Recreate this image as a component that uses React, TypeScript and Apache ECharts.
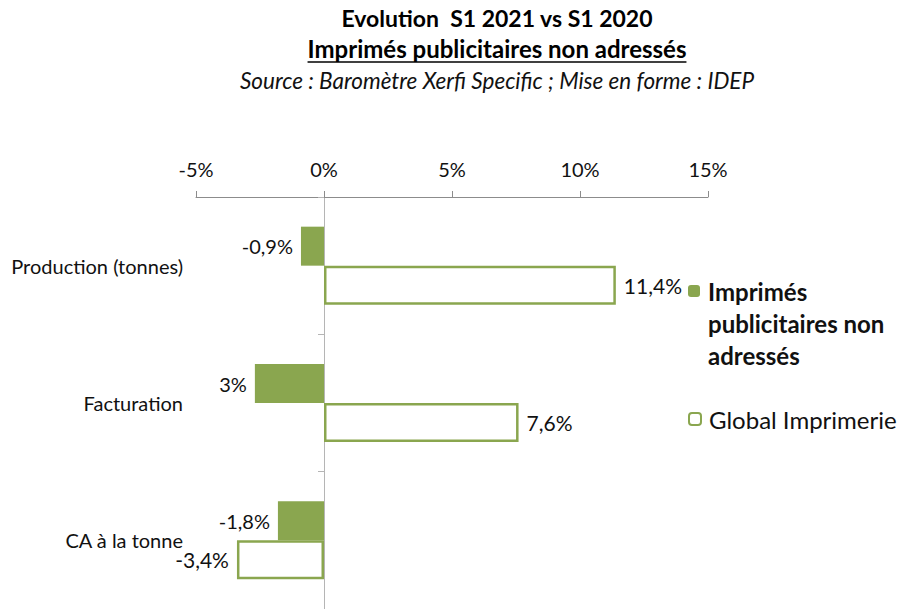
import React, { useEffect, useRef } from 'react';
import * as echarts from 'echarts';

const categories = ['Production (tonnes)', 'Facturation', 'CA à la tonne'];
const seriesNames = ['Imprimés publicitaires non adressés', 'Global Imprimerie'];
const imprimesValues = [-0.9, -2.7, -1.8];
const imprimesLabels = ['-0,9%', '3%', '-1,8%'];
const globalValues = [11.4, 7.6, -3.4];
const globalLabels = ['11,4%', '7,6%', '-3,4%'];
const xMin = -5;
const xMax = 15;
const xInterval = 5;
const titleLines = [
  'Evolution  S1 2021 vs S1 2020',
  'Imprimés publicitaires non adressés',
  'Source : Baromètre Xerfi Specific ; Mise en forme : IDEP',
];
const legendLines1 = ['Imprimés', 'publicitaires non', 'adressés'];

const GREEN = '#8AA64F';
const FONT = 'Lato, "Noto Sans", sans-serif';

function measure(text: string, font: string): number {
  const c = document.createElement('canvas').getContext('2d');
  if (!c) return text.length * 10;
  c.font = font;
  return c.measureText(text).width;
}

export default function App() {
  const ref = useRef<HTMLDivElement>(null);
  useEffect(() => {
    if (!ref.current) return;
    const chart = echarts.init(ref.current, undefined, { renderer: 'svg' });
    const cx = 497;
    const underlineW = measure(titleLines[1], 'bold 24px Lato');
    const mkData = (vals: number[], labels: string[]) =>
      vals.map((v, i) => ({
        value: v,
        label: { position: v < 0 ? 'left' : 'right', formatter: labels[i] },
      }));
    const option: any = {
      animation: false,
      textStyle: { fontFamily: FONT },
      grid: {
        left: 196,
        right: 191,
        top: 197,
        bottom: 0,
        containLabel: false,
        outerBoundsMode: 'none',
      },
      xAxis: {
        type: 'value',
        position: 'top',
        min: xMin,
        max: xMax,
        interval: xInterval,
        axisLine: { show: true, lineStyle: { color: '#8c8c8c', width: 1 } },
        axisTick: { show: true, length: 6, lineStyle: { color: '#8c8c8c' } },
        axisLabel: {
          formatter: '{value}%',
          fontSize: 20,
          color: '#111',
          margin: 18,
          fontFamily: FONT,
        },
        splitLine: { show: false },
      },
      yAxis: {
        type: 'category',
        inverse: true,
        data: categories,
        axisLine: { show: true, onZero: true, lineStyle: { color: '#b5b5b5', width: 1 } },
        axisTick: { show: true, length: 6, lineStyle: { color: '#b5b5b5' } },
        axisLabel: { margin: 13, fontSize: 20, color: '#111', fontFamily: FONT },
      },
      legend: [
        {
          orient: 'vertical',
          left: 688,
          top: 211,
          padding: 0,
          itemWidth: 12,
          itemHeight: 12,
          data: [{ name: seriesNames[0] }],
          formatter: () => '\n\n' + legendLines1.join('\n'),
          textStyle: {
            fontSize: 24,
            fontWeight: 'bold',
            color: '#111',
            lineHeight: 32,
            padding: [0, 0, 0, 3],
            fontFamily: FONT,
          },
        },
        {
          orient: 'vertical',
          left: 688,
          top: 403,
          padding: 0,
          itemWidth: 12,
          itemHeight: 12,
          data: [{ name: seriesNames[1] }],
          itemStyle: { borderWidth: 2 },
          textStyle: {
            fontSize: 24,
            color: '#111',
            lineHeight: 32,
            padding: [0, 0, 0, 3],
            fontFamily: FONT,
          },
        },
      ],
      series: [
        {
          name: seriesNames[0],
          type: 'bar',
          barWidth: 39,
          barGap: '0%',
          itemStyle: { color: GREEN },
          label: { show: true, distance: 8, fontSize: 20, color: '#111', fontFamily: FONT },
          data: mkData(imprimesValues, imprimesLabels),
        },
        {
          name: seriesNames[1],
          type: 'bar',
          barWidth: 39,
          barGap: '0%',
          itemStyle: { color: '#ffffff', borderColor: GREEN, borderWidth: 2.5 },
          label: { show: true, distance: 8, fontSize: 21, color: '#111', fontFamily: FONT },
          data: mkData(globalValues, globalLabels),
        },
      ],
      graphic: [
        {
          type: 'text',
          x: cx,
          y: 18,
          style: {
            text: titleLines[0],
            font: 'bold 23px Lato',
            fill: '#000',
            align: 'center',
            verticalAlign: 'middle',
          },
        },
        {
          type: 'text',
          x: cx,
          y: 48,
          style: {
            text: titleLines[1],
            font: 'bold 24px Lato',
            fill: '#000',
            align: 'center',
            verticalAlign: 'middle',
          },
        },
        {
          type: 'line',
          shape: { x1: cx - underlineW / 2, y1: 62, x2: cx + underlineW / 2, y2: 62 },
          style: { stroke: '#000', lineWidth: 1.5 },
        },
        {
          type: 'text',
          x: cx,
          y: 80,
          style: {
            text: titleLines[2],
            font: 'italic 22.5px Lato',
            fill: '#111',
            align: 'center',
            verticalAlign: 'middle',
          },
        },
      ],
    };
    chart.setOption(option);
    return () => chart.dispose();
  }, []);
  return (
    <div
      ref={ref}
      style={{ position: 'fixed', left: 0, top: 0, width: 899, height: 609, background: '#fff' }}
    />
  );
}
